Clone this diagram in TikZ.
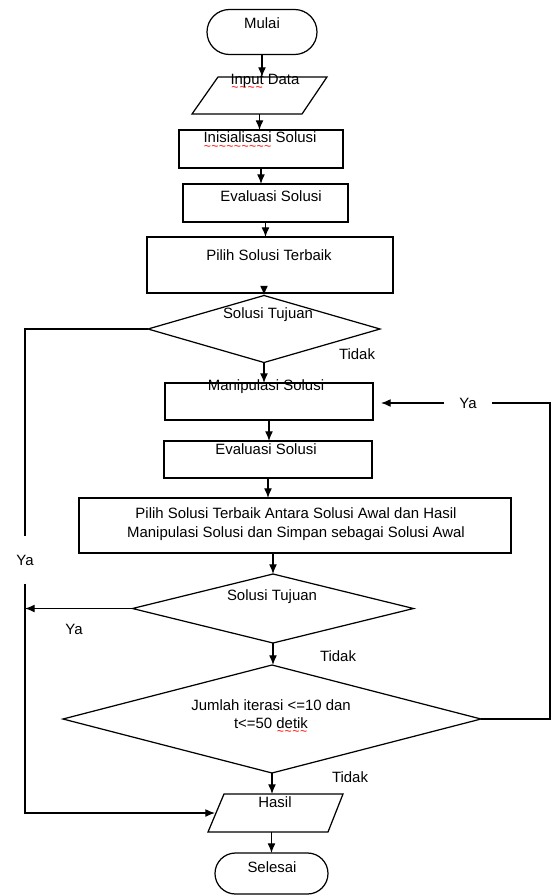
\documentclass[tikz,border=0pt]{standalone}
\usepackage{fontspec}
\setmainfont{Liberation Sans}
\usetikzlibrary{arrows.meta,shapes.geometric,shapes.misc}
\newcommand{\typo}[1]{\setbox0=\hbox{#1}\rlap{\raisebox{-4.2pt}{\hbox to \wd0{\color{red}\xleaders\hbox{\fontsize{7}{7}\selectfont\char126}\hfil}}}#1}

\begin{document}
\begin{tikzpicture}[x=0.2mm, y=-0.2mm, line width=0.7pt,
		font=\fontsize{8.5}{10.4}\selectfont,
		bentuk/.style={draw, inner sep=0pt, outer sep=0pt},
		terminal/.style={bentuk, rounded rectangle},
		proses/.style={bentuk, rectangle},
		io/.style={inner sep=0pt, outer sep=0pt, rectangle},
		keputusan/.style={bentuk, diamond},
		teks/.style={inner sep=1pt, align=center},
		panah/.style={-{Latex[length=5.5pt, width=4.5pt]}}]
		%%%%% START %%%%%
		
		\useasboundingbox (0,0) rectangle (552,896);
		
		% bentuk
		\node[terminal, minimum width=22mm, minimum height=9mm] (mulai) at (262,32) {};
		\node[io, minimum width=27mm, minimum height=7.4mm] (input) at (259.5,95.5) {};
		\draw (input.south west) -- ([xshift=5.2mm]input.north west) -- (input.north east) -- ([xshift=-5mm]input.south east) -- cycle;
		\node[proses, minimum width=32.8mm, minimum height=7.6mm] (init) at (261,149) {};
		\node[proses, minimum width=33mm, minimum height=7.6mm] (eval1) at (265.5,203) {};
		\node[proses, minimum width=49.2mm, minimum height=11.2mm] (best1) at (270,265) {};
		\node[keputusan, minimum width=46.4mm, minimum height=13.4mm] (goal1) at (264,329) {};
		\node[proses, minimum width=41.6mm, minimum height=7.4mm] (manip) at (269,401.5) {};
		\node[proses, minimum width=41.6mm, minimum height=7.4mm] (eval2) at (268,459.5) {};
		\node[proses, minimum width=86.4mm, minimum height=11mm] (best2) at (295,525.5) {};
		\node[keputusan, minimum width=56.2mm, minimum height=13.8mm] (goal2) at (273,608.5) {};
		\node[keputusan, minimum width=83.6mm, minimum height=21.6mm] (limit) at (272,719) {};
		\node[io, minimum width=27mm, minimum height=7.6mm] (hasil) at (275.5,813) {};
		\draw (hasil.south west) -- ([xshift=3.2mm]hasil.north west) -- (hasil.north east) -- ([xshift=-3mm]hasil.south east) -- cycle;
		\node[terminal, minimum width=22.6mm, minimum height=8.2mm] (selesai) at (271.5,873.5) {};
		
		% teks
		\node[teks] (tMulai) at (262,23) {Mulai};
		\node[teks] (tInput) at (265,83) {\typo{Input} Data};
		\node[teks] (tInit) at (260,141) {\typo{Inisialisasi} Solusi};
		\node[teks] (tEval1) at (271,196) {Evaluasi Solusi};
		\node[teks] (tBest1) at (269,255) {Pilih Solusi Terbaik};
		\node[teks] (tGoal1) at (268,315) {Solusi Tujuan};
		\node[teks] (tManip) at (266,387) {Manipulasi Solusi};
		\node[teks] (tEval2) at (266,449) {Evaluasi Solusi};
		\node[teks] (tBest2) at (296,524) {Pilih Solusi Terbaik Antara Solusi Awal dan Hasil\\Manipulasi Solusi dan Simpan sebagai Solusi Awal};
		\node[teks] (tGoal2) at (272,597) {Solusi Tujuan};
		\node[teks] (tLimit) at (271,717.5) {Jumlah iterasi <=10 dan\\t<=50 \typo{detik}};
		\node[teks] (tHasil) at (275,802) {Hasil};
		\node[teks] (tSelesai) at (272,867) {Selesai};
		
		% label cabang
		\node[teks] (tidak1) at (357,354) {Tidak};
		\node[teks] (tidak2) at (338,656) {Tidak};
		\node[teks] (tidak3) at (350,777) {Tidak};
		\node[teks] (ya2) at (74,629) {Ya};
		\node[teks, minimum height=9.2mm] (yaKiri) at (25,560) {Ya};
		\node[teks, minimum width=9.2mm] (yaKanan) at (468,403) {Ya};
		
		\coordinate (kiri) at (25,329);
		\coordinate (kanan) at (550,403);
		
		% alur utama
		\draw[panah] (mulai.south) -- (mulai.south |- input.north);
		\draw[panah] (input.south) -- (input.south |- init.north);
		\draw[panah] (init.south) -- (init.south |- eval1.north);
		\draw[panah] (eval1.south) -- (eval1.south |- best1.north);
		\draw[panah] (goal1.north |- best1.south) -- (goal1.north);
		\draw[panah] (goal1.south) -- (goal1.south |- manip.north);
		\draw[panah] (manip.south) -- (manip.south |- eval2.north);
		\draw[panah] (eval2.south) -- (eval2.south |- best2.north);
		\draw[panah] (goal2.north |- best2.south) -- (goal2.north);
		\draw[panah] (goal2.south) -- (goal2.south |- limit.north);
		\draw[panah] (limit.south) -- (limit.south |- hasil.north);
		\draw[panah] (selesai.north |- hasil.south) -- (selesai.north);
		
		% cabang Ya
		\draw (goal1.west) -- (kiri) -- (yaKiri.north);
		\draw[panah] (yaKiri.south) |- ([xshift=1.4mm]hasil.west);
		\draw[panah] (goal2.west) -- (goal2.west -| kiri);
		\draw (limit.east) -| (kanan) -- (yaKanan.east);
		\draw[panah, shorten >=1.6mm] (yaKanan.west) -- (manip.east |- yaKanan.west);
		
		%%%%% END %%%%%
\end{tikzpicture}
\end{document}
